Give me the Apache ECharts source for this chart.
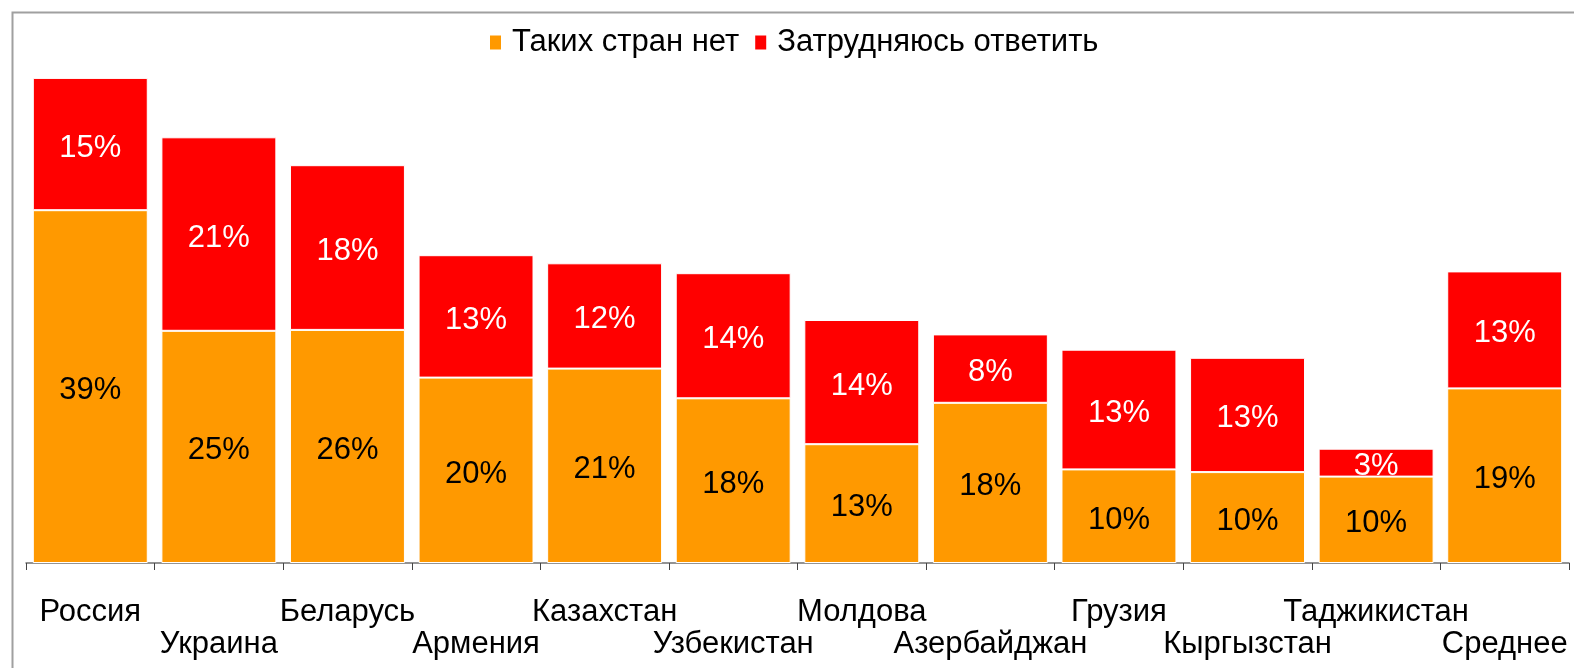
<!DOCTYPE html>
<html>
<head>
<meta charset="utf-8">
<script src="https://cdn.jsdelivr.net/npm/echarts@6/dist/echarts.min.js"></script>
<style>
  html, body { margin: 0; padding: 0; background: #fff; }
  #chart { width: 1574px; height: 668px; }
</style>
</head>
<body>
<div id="chart"></div>
<script>
// категории и значения (высоты столбцов, подписи — как на картинке)
const countries = ['Россия', 'Украина', 'Беларусь', 'Армения', 'Казахстан', 'Узбекистан',
  'Молдова', 'Азербайджан', 'Грузия', 'Кыргызстан', 'Таджикистан', 'Среднее'];
const noCountries = [39.2, 25.8, 25.9, 20.6, 21.6, 18.3, 13.2, 17.8, 10.4, 10.1, 9.6, 19.4];
const hardToSay = [14.7, 21.5, 18.3, 13.6, 11.7, 13.9, 13.8, 7.6, 13.3, 12.7, 3.1, 13.0];
const noCountriesLabels = [39, 25, 26, 20, 21, 18, 13, 18, 10, 10, 10, 19];
const hardToSayLabels = [15, 21, 18, 13, 12, 14, 14, 8, 13, 13, 3, 13];
const seriesNames = ['Таких стран нет', 'Затрудняюсь ответить'];

const FONT = '"Liberation Sans", Arial, sans-serif';
const FS = 31;
const chart = echarts.init(document.getElementById('chart'));

chart.setOption({
  animation: false,
  textStyle: { fontFamily: FONT },
  graphic: [{
    type: 'rect',
    left: 10, top: 10,
    shape: { width: 1700, height: 800 },
    style: { fill: 'none', stroke: '#a0a0a0', lineWidth: 2 },
    z: -1
  }],
  legend: {
    left: 483, top: 22,
    itemWidth: 13, itemHeight: 16,
    itemGap: 14,
    icon: 'rect',
    textStyle: { color: '#000', fontSize: FS, fontFamily: FONT, padding: [0, 0, 0, 5] },
    data: seriesNames
  },
  grid: { left: 26, right: 5, top: 23, bottom: 105 },
  xAxis: {
    type: 'category',
    data: countries,
    axisLine: { lineStyle: { color: '#707070', width: 1.5 } },
    axisTick: { show: true, length: 7, lineStyle: { color: '#444', width: 1 } },
    axisLabel: {
      interval: 0,
      margin: 33,
      color: '#000',
      fontSize: FS,
      lineHeight: 32,
      fontFamily: FONT,
      formatter: (v, i) => (i % 2 === 1 ? '\n' + v : v)
    }
  },
  yAxis: {
    type: 'value',
    min: 0, max: 60,
    show: false,
    splitLine: { show: false }
  },
  series: [
    {
      name: seriesNames[0],
      type: 'bar',
      stack: 'all',
      data: noCountries,
      barCategoryGap: '10.6%',
      itemStyle: { color: '#ff9900', borderColor: '#fff', borderWidth: 1 },
      label: {
        show: true, position: 'inside', offset: [0, 4],
        color: '#000', fontSize: FS, fontFamily: FONT,
        formatter: p => noCountriesLabels[p.dataIndex] + '%'
      }
    },
    {
      name: seriesNames[1],
      type: 'bar',
      stack: 'all',
      data: hardToSay,
      itemStyle: { color: '#ff0000', borderColor: '#fff', borderWidth: 1 },
      label: {
        show: true, position: 'inside', offset: [0, 4],
        color: '#fff', fontSize: FS, fontFamily: FONT,
        formatter: p => hardToSayLabels[p.dataIndex] + '%'
      }
    }
  ]
});
</script>
</body>
</html>
